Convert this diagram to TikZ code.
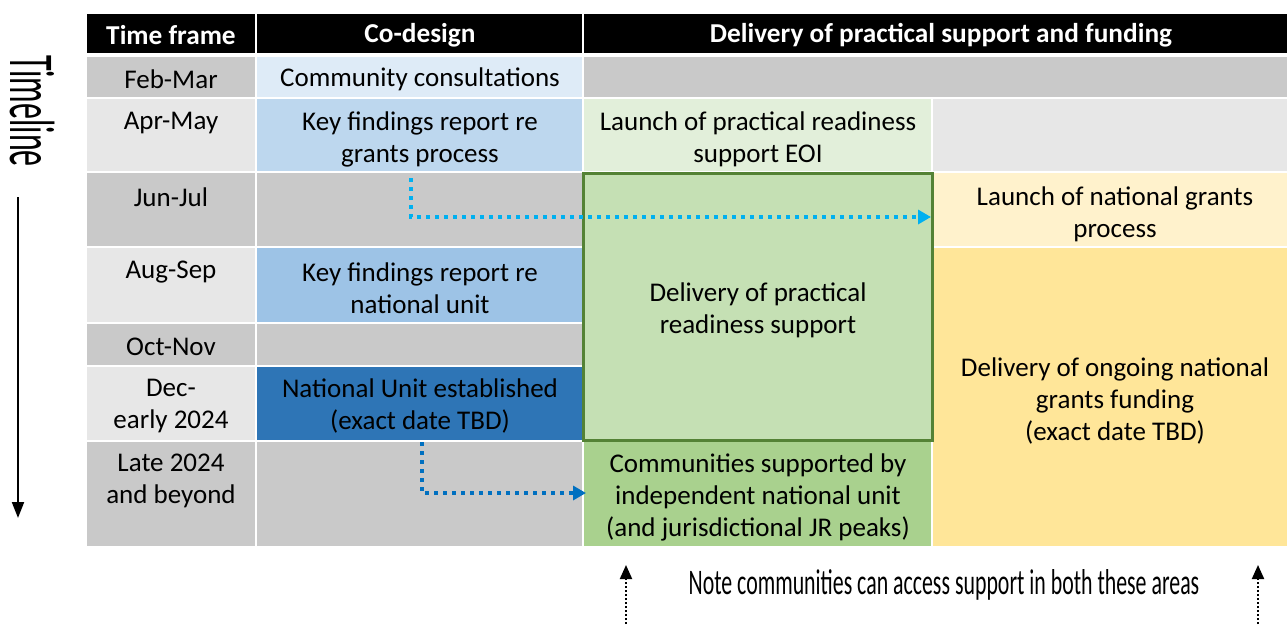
\documentclass[tikz,border=0pt]{standalone}
\usepackage{fontspec}
\setmainfont{Carlito}
\newfontfamily\narrowA[FakeStretch=0.50]{Carlito}
\newfontfamily\narrowB[FakeStretch=0.607]{Carlito}
\usetikzlibrary{arrows.meta}
\definecolor{tgD}{HTML}{C9C9C9}
\definecolor{tgL}{HTML}{E7E7E7}
\definecolor{blueA}{HTML}{DEEBF7}
\definecolor{blueB}{HTML}{BDD7EE}
\definecolor{blueC}{HTML}{9DC3E6}
\definecolor{blueD}{HTML}{2E75B6}
\definecolor{greenA}{HTML}{E2EFDA}
\definecolor{greenB}{HTML}{C5E0B4}
\definecolor{greenC}{HTML}{A9D18E}
\definecolor{gborder}{HTML}{548235}
\definecolor{yelA}{HTML}{FFF2CC}
\definecolor{yelB}{HTML}{FFE699}
\definecolor{arrA}{HTML}{00B0F0}
\definecolor{arrB}{HTML}{0070C0}
\newcommand\cellbox[6]{\node[cellst, fill=#6, minimum width={#4-#2}, minimum height={#5-#3}] (#1) at (#2,#3) {};}
\tikzset{
  cellst/.style={draw=none, inner sep=0pt, outer sep=0pt, anchor=north west},
  txt/.style={align=center, font=\fontsize{27}{32}\selectfont, inner sep=0pt, text=black},
  hdr/.style={align=center, font=\fontsize{27.3}{32}\selectfont\bfseries, inner sep=0pt, text=white},
  bluedots/.style={line width=4pt, dash pattern=on 4pt off 5pt, -{Triangle[length=13pt,width=14pt]}},
  blackdots/.style={line width=2pt, dash pattern=on 2pt off 2pt, -{Triangle[length=14pt,width=12pt]}},
}
\begin{document}
\begin{tikzpicture}[x=1pt,y=-1pt]
\useasboundingbox[fill=white] (0,0) rectangle (1287,627);
% header
\cellbox{h1}{87}{14}{255}{53}{black}
\cellbox{h2}{257}{14}{582}{53}{black}
\cellbox{h3}{584}{14}{1287}{53}{black}
% time frame column
\cellbox{t1}{87}{57}{255}{97}{tgD}
\cellbox{t2}{87}{99}{255}{171}{tgL}
\cellbox{t3}{87}{173}{255}{246}{tgD}
\cellbox{t4}{87}{248}{255}{322}{tgL}
\cellbox{t5}{87}{324}{255}{365}{tgD}
\cellbox{t6}{87}{367}{255}{440}{tgL}
\cellbox{t7}{87}{442}{255}{546}{tgD}
% co-design column
\cellbox{c1}{257}{57}{582}{97}{blueA}
\cellbox{c2}{257}{99}{582}{171}{blueB}
\cellbox{c3}{257}{173}{582}{246}{tgD}
\cellbox{c4}{257}{248}{582}{322}{blueC}
\cellbox{c5}{257}{324}{582}{365}{tgD}
\cellbox{c6}{257}{367}{582}{440}{blueD}
\cellbox{c7}{257}{442}{582}{546}{tgD}
% delivery
\cellbox{d1}{584}{57}{1287}{97}{tgD}
\cellbox{d2}{584}{99}{931}{171}{greenA}
\cellbox{d3}{933}{99}{1287}{171}{tgL}
\cellbox{d4}{933}{173}{1287}{246}{yelA}
\cellbox{d5}{933}{248}{1287}{546}{yelB}
\cellbox{d6}{584}{442}{931}{546}{greenC}
\node[cellst, fill=greenB, draw=gborder, line width=3pt, minimum width=349, minimum height=267] (gbox) at (583.5,173.5) {};
% header texts
\node[hdr] (ht1) at (171,35) {Time frame};
\node[hdr] (ht2) at (420,35) {Co-design};
\node[hdr] (ht3) at (941,35) {Delivery of practical support and funding};
% time frame texts
\node[txt] (tt1) at (171,79) {Feb-Mar};
\node[txt] (tt2) at (171,123) {Apr-May};
\node[txt] (tt3) at (171,197) {Jun-Jul};
\node[txt] (tt4) at (171,272) {Aug-Sep};
\node[txt] (tt5) at (171,347) {Oct-Nov};
\node[txt] (tt6) at (171,406) {Dec-\\early 2024};
\node[txt] (tt7) at (171,481) {Late 2024\\and beyond};
% co-design texts
\node[txt] (ct1) at (420,79) {Community consultations};
\node[txt] (ct2) at (420,139) {Key findings report re\\grants process};
\node[txt] (ct4) at (420,288) {Key findings report re\\national unit};
\node[txt] (ct6) at (420,406) {National Unit established\\(exact date TBD)};
% delivery texts
\node[txt] (dt2) at (758,139) {Launch of practical readiness\\support EOI};
\node[txt] (gt) at (758,310) {Delivery of practical\\readiness support};
\node[txt] (dt6) at (758,497) {Communities supported by\\independent national unit\\(and jurisdictional JR peaks)};
\node[txt] (dt4) at (1115,214) {Launch of national grants\\process};
\node[txt] (dt5) at (1115,401) {Delivery of ongoing national\\grants funding\\(exact date TBD)};
% blue arrows
\coordinate (a1s) at (411,178);
\coordinate (a1e) at (931,217);
\draw[bluedots, arrA] (a1s) |- (a1e);
\coordinate (a2s) at (422,442);
\coordinate (a2e) at (586,493);
\draw[bluedots, arrB] (a2s) |- (a2e);
% timeline
\node[inner sep=0pt, rotate=-90, font=\narrowA\fontsize{64}{64}\selectfont] (tl) at (32,111) {Timeline};
\coordinate (tls) at (18,197);
\coordinate (tle) at (18,518);
\draw[line width=2pt, -{Triangle[length=16pt,width=12pt]}] (tls) -- (tle);
% note
\node[inner sep=0pt, font=\narrowB\fontsize{36}{36}\selectfont] (note) at (944,585) {Note communities can access support in both these areas};
\coordinate (n1s) at (626,624);
\coordinate (n1e) at (626,565);
\coordinate (n2s) at (1258,624);
\coordinate (n2e) at (1258,565);
\draw[blackdots] (n1s) -- (n1e);
\draw[blackdots] (n2s) -- (n2e);
\end{tikzpicture}
\end{document}
